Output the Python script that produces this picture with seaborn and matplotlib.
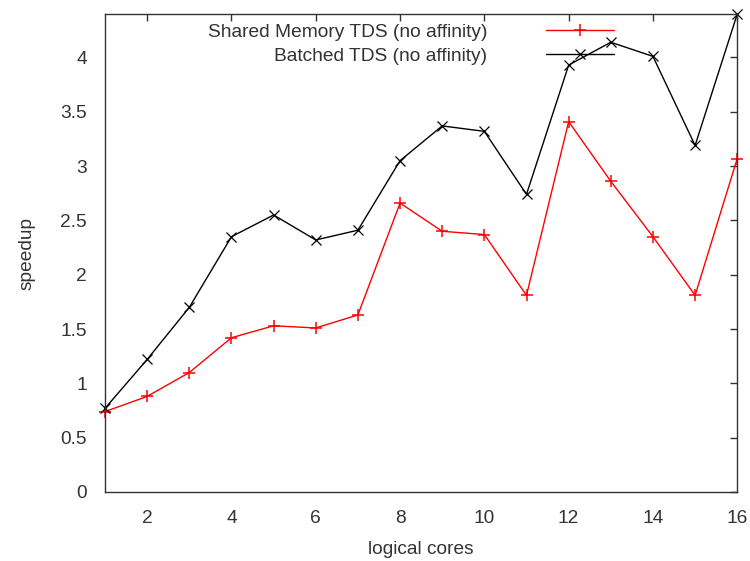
import matplotlib
matplotlib.use("Agg")
import matplotlib.pyplot as plt
import seaborn as sns
import pandas as pd

cores = list(range(1, 17))
shared_memory = [0.74, 0.88, 1.10, 1.42, 1.53, 1.51, 1.63, 2.66, 2.40, 2.37, 1.81, 3.41, 2.86, 2.35, 1.81, 3.07]
batched = [0.77, 1.22, 1.70, 2.35, 2.55, 2.32, 2.41, 3.05, 3.37, 3.32, 2.74, 3.93, 4.14, 4.01, 3.19, 4.40]
labels = ["Shared Memory TDS (no affinity)", "Batched TDS (no affinity)"]

sns.set_style("white")
plt.rcParams['font.family'] = ['Liberation Sans', 'DejaVu Sans']

fig = plt.figure(figsize=(7.5, 5.61), dpi=100)
ax = fig.add_axes([0.14, 0.123, 0.843, 0.852])

df1 = pd.DataFrame({"cores": cores, "speedup": shared_memory})
df2 = pd.DataFrame({"cores": cores, "speedup": batched})
sns.lineplot(data=df1, x="cores", y="speedup", ax=ax, color="red", marker="+",
             markersize=9, markeredgewidth=1.1, markeredgecolor="red",
             linewidth=1, label=labels[0], clip_on=False)
sns.lineplot(data=df2, x="cores", y="speedup", ax=ax, color="black", marker="x",
             markersize=7, markeredgewidth=0.9, markeredgecolor="black",
             linewidth=1, label=labels[1], clip_on=False)

ax.set_xlim(1, 16)
ax.set_ylim(0, 4.4)
ax.set_xticks(range(2, 17, 2))
ax.set_yticks([0, 0.5, 1, 1.5, 2, 2.5, 3, 3.5, 4])
ax.set_yticklabels(["0", "0.5", "1", "1.5", "2", "2.5", "3", "3.5", "4"])
ax.tick_params(direction="in", top=True, right=True, length=5, width=1,
               labelsize=13.8, colors="#333333", pad=13)
for s in ax.spines.values():
    s.set_color("#333333")
    s.set_linewidth(1)
ax.set_xlabel("logical cores", fontsize=13.8, color="#333333", labelpad=10)
ax.set_ylabel("speedup", fontsize=13.8, color="#333333", labelpad=18)

leg = ax.legend(loc="upper right", bbox_to_anchor=(0.821, 1.0), markerfirst=False,
                frameon=False, fontsize=13.8, handlelength=3.55, handletextpad=3.1,
                borderaxespad=0.3, borderpad=0.2, labelspacing=0.32)
for t in leg.get_texts():
    t.set_color("#333333")

fig.savefig("out.png", dpi=100)
